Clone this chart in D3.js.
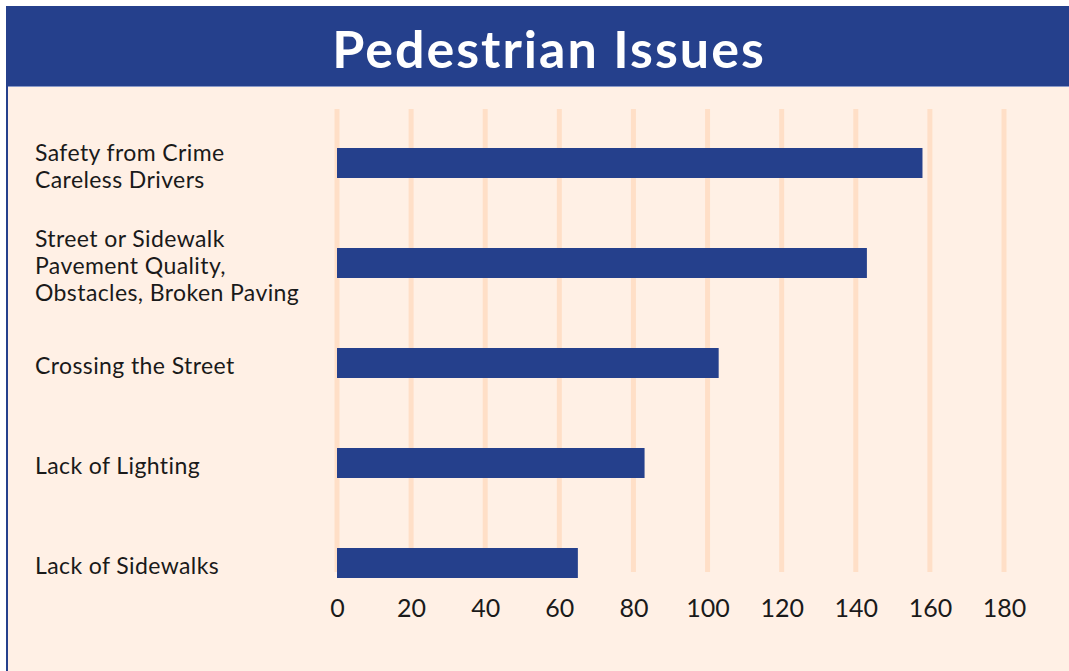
<!DOCTYPE html>
<html>
<head>
<meta charset="utf-8">
<script src="https://cdn.jsdelivr.net/npm/d3@7"></script>
<style>
  body { margin: 0; background: #fff; }
  svg { display: block; font-family: Lato, "Open Sans", sans-serif; }
</style>
</head>
<body>
<div id="chart"></div>
<script>
// data
var categories = [
  ["Safety from Crime", "Careless Drivers"],
  ["Street or Sidewalk", "Pavement Quality,", "Obstacles, Broken Paving"],
  ["Crossing the Street"],
  ["Lack of Lighting"],
  ["Lack of Sidewalks"]
]
var values = [158, 143, 103, 83, 65]
var ticks = [0, 20, 40, 60, 80, 100, 120, 140, 160, 180]
var title = "Pedestrian Issues"

var W = 1069, H = 671
var blue = "#25408c", peach = "#fff0e5", grid = "#ffdfc7"

var svg = d3.select("#chart").append("svg")
  .attr("width", W)
  .attr("height", H)

// panel + title bar
svg.append("rect")
  .attr("x", 7).attr("y", 86)
  .attr("width", W - 7).attr("height", H - 86)
  .style("fill", peach)
svg.append("rect")
  .attr("x", 6).attr("y", 86)
  .attr("width", 2).attr("height", H - 86)
  .style("fill", blue)
svg.append("rect")
  .attr("x", 6).attr("y", 6)
  .attr("width", W - 6).attr("height", 80)
  .style("fill", blue)
svg.append("line")
  .attr("x1", 8).attr("x2", W)
  .attr("y1", 86.5).attr("y2", 86.5)
  .style("stroke", "#8a9ac8")
  .style("stroke-width", 1)

svg.append("text")
  .attr("x", 549)
  .attr("y", 68)
  .attr("text-anchor", "middle")
  .style("fill", "#fff")
  .style("font-size", "52px")
  .style("font-weight", "bold")
  .style("letter-spacing", "2px")
  .text(title)

var x = d3.scaleLinear().domain([0, 180]).range([337, 1004])
var y = d3.scaleBand()
  .domain(d3.range(categories.length))
  .range([113, 613])
  .paddingInner(0.7)
  .paddingOuter(0.35)

// gridlines
svg.append("g").selectAll("line").data(ticks)
  .enter().append("line")
  .attr("x1", function (d) { return x(d) })
  .attr("x2", function (d) { return x(d) })
  .attr("y1", 109)
  .attr("y2", 572)
  .style("stroke", grid)
  .style("stroke-width", 5)

// bars
svg.append("g").selectAll("rect").data(values)
  .enter().append("rect")
  .attr("x", x(0))
  .attr("y", function (d, i) { return y(i) })
  .attr("width", function (d) { return x(d) - x(0) })
  .attr("height", y.bandwidth())
  .style("fill", blue)

// x axis
var xAxis = d3.axisBottom(x).tickValues(ticks).tickSize(0).tickPadding(0)
var gx = svg.append("g")
  .attr("transform", "translate(0,599)")
  .call(xAxis)
gx.select(".domain").remove()
gx.selectAll(".tick text")
  .style("font-family", "Lato, sans-serif")
  .style("font-size", "25px")
  .style("fill", "#1a1a1a")

// category labels
var lineH = 27
var labels = svg.append("g").selectAll("text").data(categories)
  .enter().append("text")
  .attr("x", 35)
  .attr("y", function (d, i) {
    return y(i) + y.bandwidth() / 2 + 11 - (d.length - 1) * lineH / 2
  })
  .style("font-size", "23px")
  .style("letter-spacing", "0.4px")
  .style("fill", "#1a1a1a")

labels.selectAll("tspan").data(function (d) { return d })
  .enter().append("tspan")
  .attr("x", 35)
  .attr("dy", function (d, i) { return i === 0 ? 0 : lineH })
  .text(function (d) { return d })
</script>
</body>
</html>
